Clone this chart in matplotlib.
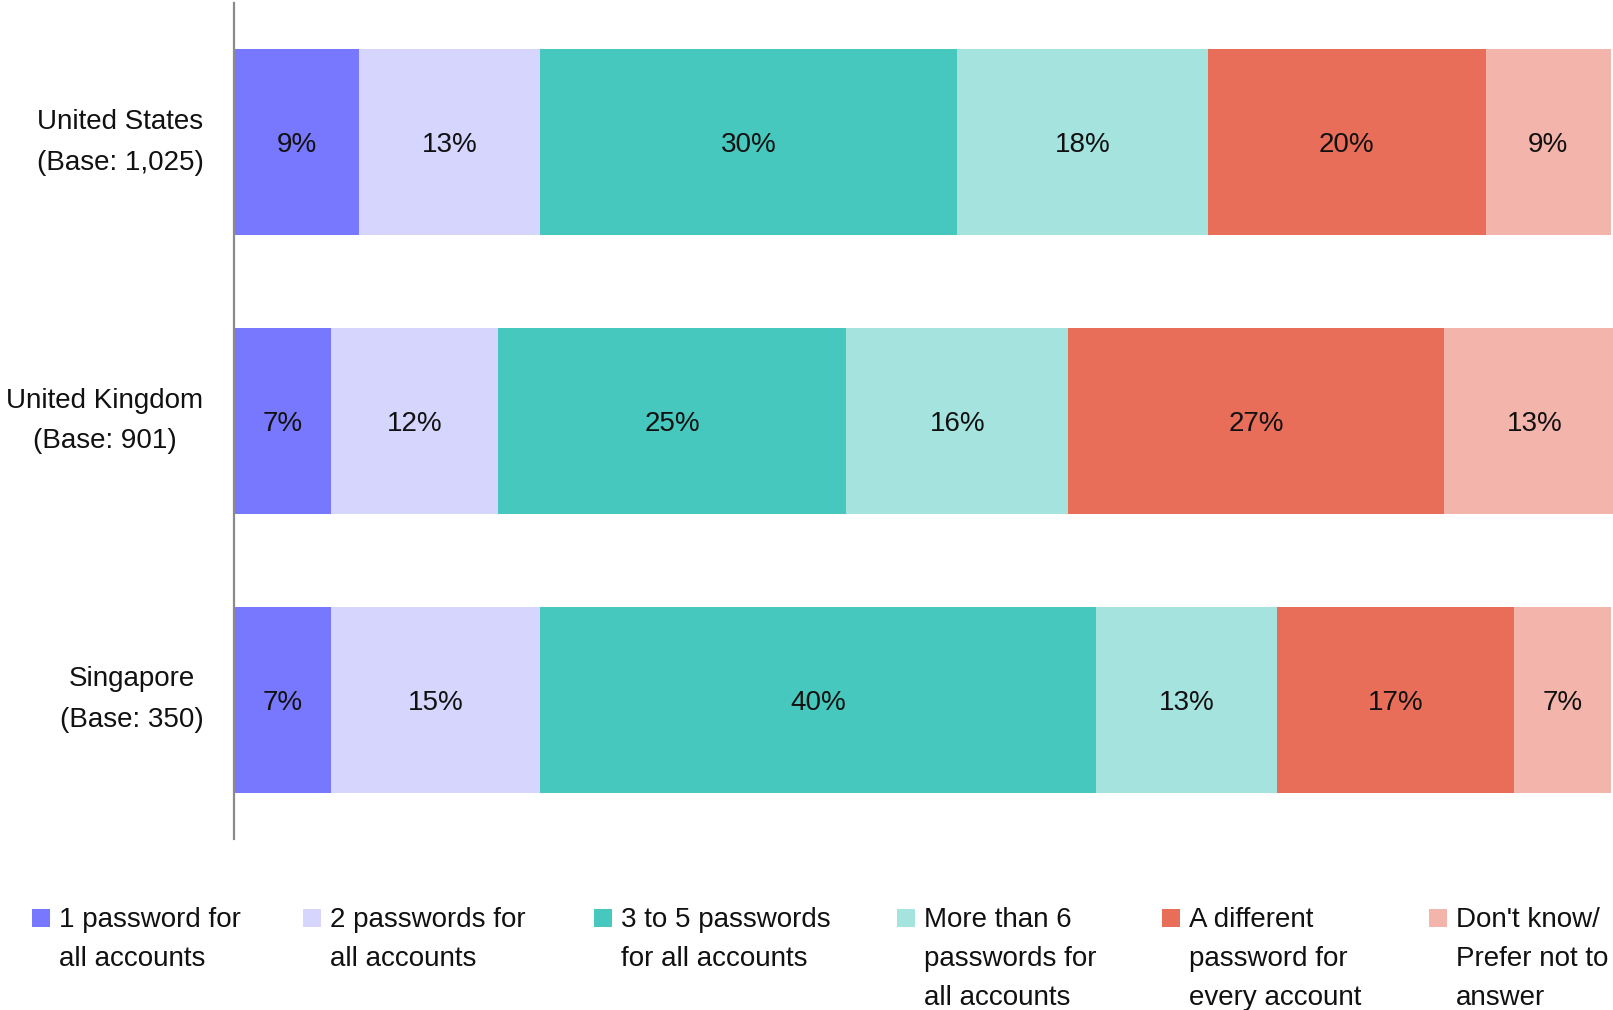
import matplotlib.pyplot as plt
from matplotlib.patches import Rectangle

plt.rcParams['font.family'] = ['Liberation Sans', 'DejaVu Sans']

countries = ["United States\n(Base: 1,025)", "United Kingdom\n(Base: 901)", "Singapore\n(Base: 350)"]
categories = ["1 password for\nall accounts",
              "2 passwords for\nall accounts",
              "3 to 5 passwords\nfor all accounts",
              "More than 6\npasswords for\nall accounts",
              "A different\npassword for\nevery account",
              "Don't know/\nPrefer not to\nanswer"]
colors = ["#7878FF", "#D6D5FE", "#47C8BE", "#A5E3DF", "#E86E5A", "#F3B4AB"]

# share of respondents per answer, one list per answer, in country order
one_pw = [9, 7, 7]
two_pw = [13, 12, 15]
three_to_five = [30, 25, 40]
more_than_six = [18, 16, 13]
different_each = [20, 27, 17]
dont_know = [9, 13, 7]
series = [one_pw, two_pw, three_to_five, more_than_six, different_each, dont_know]

W, H = 1613, 1010
fig = plt.figure(figsize=(W / 100, H / 100), dpi=100)
ax = fig.add_axes([234 / W, 1 - 839 / H, 1 - 234 / W, (839 - 3) / H])

left = [0] * len(countries)
ypos = list(range(len(countries)))
for vals, col in zip(series, colors):
    ax.barh(ypos, vals, left=left, height=0.667, color=col, linewidth=0)
    for y, v, l in zip(ypos, vals, left):
        ax.text(l + v / 2, y, f"{v}%", ha="center", va="center_baseline",
                fontsize=20, color="#111111")
    left = [a + b for a, b in zip(left, vals)]

ax.set_xlim(0, 99.15)
ax.set_ylim(2.5, -0.5)
ax.set_xticks([])
ax.set_yticks(ypos)
ax.set_yticklabels(countries, fontsize=20, color="#111111", linespacing=1.72)
for lab in ax.get_yticklabels():
    lab.set_multialignment("center")
    lab.set_verticalalignment("center")
ax.tick_params(axis="y", length=0, pad=22)
for s in ["top", "right", "bottom"]:
    ax.spines[s].set_visible(False)
ax.spines["left"].set_color("#8A8A8A")
ax.spines["left"].set_linewidth(1.6)

# legend along the bottom edge, one text line at a time
marker_x = [32, 303, 594, 897, 1162, 1429]
first_base = 927
line_step = 39
for mx, lab, col in zip(marker_x, categories, colors):
    fig.add_artist(Rectangle((mx / W, 1 - first_base / H), 18 / W, 18 / H,
                             transform=fig.transFigure, color=col, linewidth=0))
    for i, line in enumerate(lab.split("\n")):
        fig.text((mx + 27) / W, 1 - (first_base + i * line_step) / H, line,
                 fontsize=20, color="#111111", va="baseline", ha="left")

fig.savefig("out.png", dpi=100)
